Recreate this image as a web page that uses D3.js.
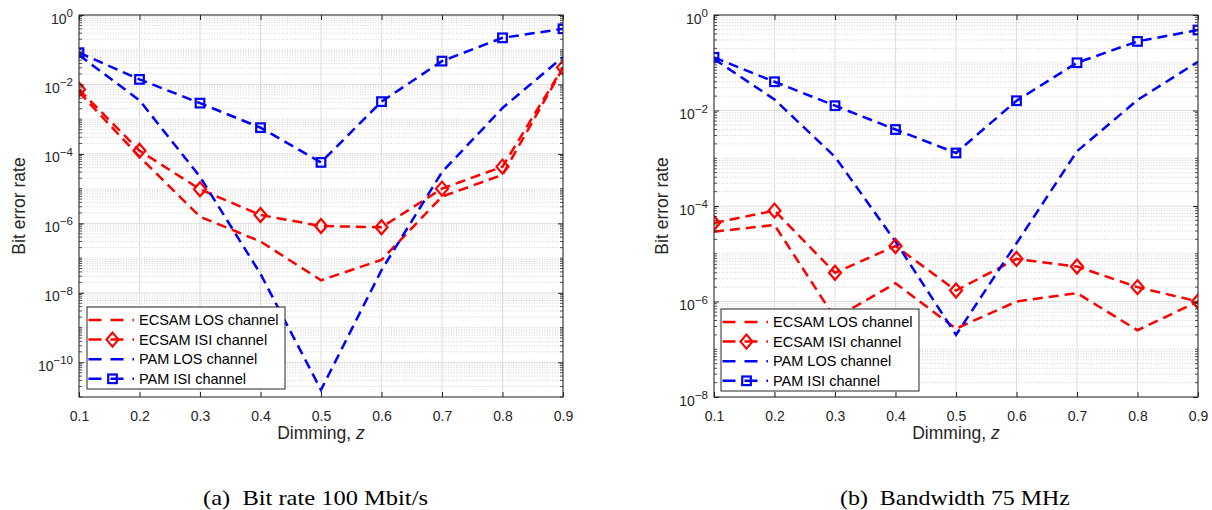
<!DOCTYPE html>
<html><head><meta charset="utf-8">
<script src="https://cdn.jsdelivr.net/npm/d3@7"></script>
<style>body{margin:0;background:#fff}</style></head>
<body>
<svg id="c" width="1212" height="510" xmlns="http://www.w3.org/2000/svg"></svg>
<script>
// ---------- data ----------
const dimming = [0.1, 0.2, 0.3, 0.4, 0.5, 0.6, 0.7, 0.8, 0.9];
const xTicks = [0.1, 0.2, 0.3, 0.4, 0.5, 0.6, 0.7, 0.8, 0.9];

// panel (a): Bit rate 100 Mbit/s
const aEcsamLos = [6.0e-3, 8.3e-5, 1.56e-6, 3.0e-7, 2.3e-8, 8.9e-8, 5.9e-6, 2.5e-5, 0.030];
const aEcsamIsi = [7.2e-3, 1.24e-4, 9.6e-6, 1.74e-6, 8.4e-7, 7.7e-7, 1.0e-5, 4.3e-5, 0.031];
const aPamLos   = [0.070, 3.5e-3, 2.2e-5, 3.5e-8, 1.6e-11, 4.5e-8, 3.0e-5, 2.1e-3, 0.062];
const aPamIsi   = [0.082, 0.014, 2.9e-3, 5.7e-4, 5.7e-5, 3.2e-3, 0.047, 0.22, 0.40];
const aYTickExp = [0, -2, -4, -6, -8, -10];

// panel (b): Bandwidth 75 MHz
const bEcsamLos = [2.9e-5, 4.0e-5, 4.5e-7, 2.4e-6, 2.7e-7, 1.0e-6, 1.5e-6, 2.5e-7, 1.0e-6];
const bEcsamIsi = [4.4e-5, 8.0e-5, 4.0e-6, 1.45e-5, 1.7e-6, 7.8e-6, 5.4e-6, 2.0e-6, 1.0e-6];
const bPamLos   = [0.12, 0.017, 1.07e-3, 1.8e-5, 2.0e-7, 1.66e-5, 1.4e-3, 0.0166, 0.105];
const bPamIsi   = [0.13, 0.040, 0.0126, 4.0e-3, 1.29e-3, 0.016, 0.10, 0.28, 0.485];
const bYTickExp = [0, -2, -4, -6, -8];

const legendLabels = ["ECSAM LOS channel", "ECSAM ISI channel", "PAM LOS channel", "PAM ISI channel"];
const xLabel = "Dimming, ";
const yLabel = "Bit error rate";
const captions = ["(a)  Bit rate 100 Mbit/s", "(b)  Bandwidth 75 MHz"];

// ---------- drawing ----------
const svg = d3.select("#c");
const AX = "#262626";
const FONT = "'Liberation Sans', Arial, Helvetica, sans-serif";

const seriesStyle = [
  {color: "#ff0000", marker: null},
  {color: "#ff0000", marker: "diamond"},
  {color: "#0000ff", marker: null},
  {color: "#0000ff", marker: "square"}
];

function drawMarker(sel, type, color) {
  if (type === "diamond") {
    sel.append("path").attr("d", "M0,-7L6,0L0,7L-6,0Z")
      .attr("fill", "none").attr("stroke", color).attr("stroke-width", 2.2);
  } else if (type === "square") {
    sel.append("rect").attr("x", -4.3).attr("y", -4.3).attr("width", 8.6).attr("height", 8.6)
      .attr("fill", "none").attr("stroke", color).attr("stroke-width", 2.2);
  }
}

function panel(cfg, idx) {
  const g = svg.append("g");
  const x = d3.scaleLinear().domain([0.1, 0.9]).range([cfg.left, cfg.right]);
  const y = d3.scaleLog().domain(cfg.yDomain).range([cfg.bottom, cfg.top]);
  const lowExp = Math.round(Math.log10(cfg.yDomain[0]));
  const majors = cfg.yExp.map(e => Math.pow(10, e));
  const minors = [];
  for (let e = lowExp; e < 0; e++) {
    for (let m = 1; m <= 9; m++) {
      const v = m * Math.pow(10, e);
      if (m === 1 && cfg.yExp.includes(e)) continue;
      minors.push(v);
    }
  }
  const clipId = "clip" + idx;
  svg.append("clipPath").attr("id", clipId).append("rect")
    .attr("x", cfg.left).attr("y", cfg.top)
    .attr("width", cfg.right - cfg.left).attr("height", cfg.bottom - cfg.top);

  // minor grid
  g.append("g").selectAll("line").data(minors).join("line")
    .attr("x1", cfg.left).attr("x2", cfg.right)
    .attr("y1", d => y(d)).attr("y2", d => y(d))
    .attr("stroke", "#c8c8c8").attr("stroke-width", 0.8).attr("stroke-dasharray", "1,1.6");
  // major grid
  g.append("g").selectAll("line").data(majors).join("line")
    .attr("x1", cfg.left).attr("x2", cfg.right)
    .attr("y1", d => y(d)).attr("y2", d => y(d))
    .attr("stroke", "#dedede").attr("stroke-width", 1);
  g.append("g").selectAll("line").data(xTicks).join("line")
    .attr("x1", d => x(d)).attr("x2", d => x(d))
    .attr("y1", cfg.top).attr("y2", cfg.bottom)
    .attr("stroke", "#dedede").attr("stroke-width", 1);

  // series lines
  const line = d3.line().x(d => x(d[0])).y(d => y(d[1]));
  const plotG = g.append("g").attr("clip-path", `url(#${clipId})`);
  cfg.series.forEach((vals, i) => {
    const pts = dimming.map((d, k) => [d, vals[k]]);
    plotG.append("path").datum(pts).attr("d", line)
      .attr("fill", "none").attr("stroke", seriesStyle[i].color)
      .attr("stroke-width", 2.5).attr("stroke-dasharray", "10,6");
  });
  cfg.series.forEach((vals, i) => {
    if (!seriesStyle[i].marker) return;
    dimming.forEach((d, k) => {
      const m = plotG.append("g").attr("transform", `translate(${x(d)},${y(vals[k])})`);
      drawMarker(m, seriesStyle[i].marker, seriesStyle[i].color);
    });
  });

  // axes (ticks inward)
  const xb = g.append("g").attr("transform", `translate(0,${cfg.bottom})`)
    .call(d3.axisBottom(x).tickValues(xTicks).tickSizeInner(-5).tickSizeOuter(0)
      .tickPadding(14).tickFormat(d3.format(".1f")));
  xb.select(".domain").remove();
  xb.selectAll("line").attr("stroke", AX);
  xb.selectAll("text").attr("font-family", FONT).attr("font-size", 14).attr("fill", AX);
  const xt = g.append("g").attr("transform", `translate(0,${cfg.top})`)
    .call(d3.axisTop(x).tickValues(xTicks).tickSizeInner(-5).tickSizeOuter(0).tickFormat(""));
  xt.select(".domain").remove();
  xt.selectAll("line").attr("stroke", AX);

  const yl = g.append("g").attr("transform", `translate(${cfg.left},0)`)
    .call(d3.axisLeft(y).tickValues(majors).tickSizeInner(-5).tickSizeOuter(0).tickFormat(""));
  yl.select(".domain").remove();
  yl.selectAll("line").attr("stroke", AX);
  const yr = g.append("g").attr("transform", `translate(${cfg.right},0)`)
    .call(d3.axisRight(y).tickValues(majors).tickSizeInner(-5).tickSizeOuter(0).tickFormat(""));
  yr.select(".domain").remove();
  yr.selectAll("line").attr("stroke", AX);
  // minor ticks
  [cfg.left, cfg.right].forEach((xx, s) => {
    g.append("g").selectAll("line").data(minors).join("line")
      .attr("x1", xx).attr("x2", s === 0 ? xx + 3 : xx - 3)
      .attr("y1", d => y(d)).attr("y2", d => y(d))
      .attr("stroke", AX).attr("stroke-width", 0.8);
  });

  // y tick labels 10^e
  cfg.yExp.forEach(e => {
    const t = g.append("text").attr("x", cfg.left - 6).attr("y", y(Math.pow(10, e)) + 8.5)
      .attr("text-anchor", "end").attr("font-family", FONT).attr("fill", AX);
    t.append("tspan").attr("font-size", 14).text("10");
    t.append("tspan").attr("font-size", 11.5).attr("dy", -6.5).text(e === 0 ? "0" : "\u2212" + Math.abs(e));
  });

  // box
  g.append("rect").attr("x", cfg.left).attr("y", cfg.top)
    .attr("width", cfg.right - cfg.left).attr("height", cfg.bottom - cfg.top)
    .attr("fill", "none").attr("stroke", AX).attr("stroke-width", 1);

  // axis labels
  const xlab = g.append("text").attr("x", (cfg.left + cfg.right) / 2).attr("y", 439)
    .attr("text-anchor", "middle").attr("font-family", FONT).attr("font-size", 17.5).attr("fill", AX);
  xlab.append("tspan").text(xLabel);
  xlab.append("tspan").attr("font-style", "italic").text("z");
  g.append("text").attr("transform", `translate(${cfg.left - cfg.yLabOff},${(cfg.top + cfg.bottom) / 2}) rotate(-90)`)
    .attr("text-anchor", "middle").attr("font-family", FONT).attr("font-size", 17.5).attr("fill", AX)
    .text(yLabel);

  // legend
  const lg = g.append("g").attr("transform", `translate(${cfg.legX},${cfg.legY})`);
  lg.append("rect").attr("x", 0).attr("y", 0).attr("width", 198).attr("height", 82)
    .attr("fill", "#fff").attr("stroke", AX).attr("stroke-width", 1);
  legendLabels.forEach((lab, i) => {
    const yy = 13 + i * 19.6;
    lg.append("line").attr("x1", 1.5).attr("x2", 47).attr("y1", yy).attr("y2", yy)
      .attr("stroke", seriesStyle[i].color).attr("stroke-width", 2.5).attr("stroke-dasharray", "13,9");
    if (seriesStyle[i].marker) {
      const m = lg.append("g").attr("transform", `translate(25.5,${yy})`);
      drawMarker(m, seriesStyle[i].marker, seriesStyle[i].color);
    }
    lg.append("text").attr("x", 52).attr("y", yy + 5).attr("font-family", FONT)
      .attr("font-size", 14.5).attr("fill", "#000").text(lab);
  });

  // caption
  svg.append("text").attr("x", cfg.capX).attr("y", 505)
    .attr("font-family", "'Liberation Serif', 'Times New Roman', serif").attr("font-size", 21)
    .attr("fill", "#000").attr("textLength", cfg.capW).attr("lengthAdjust", "spacingAndGlyphs")
    .attr("xml:space", "preserve").style("white-space", "pre")
    .text(captions[idx]);
}

panel({left: 79, right: 563, top: 15, bottom: 397, yDomain: [1e-11, 1], yExp: aYTickExp, yLabOff: 54,
  series: [aEcsamLos, aEcsamIsi, aPamLos, aPamIsi], legX: 87, legY: 307, capX: 203, capW: 225}, 0);
panel({left: 714, right: 1198, top: 15, bottom: 397, yDomain: [1e-8, 1], yExp: bYTickExp, yLabOff: 46,
  series: [bEcsamLos, bEcsamIsi, bPamLos, bPamIsi], legX: 721, legY: 309, capX: 840, capW: 230}, 1);
</script>
</body></html>
